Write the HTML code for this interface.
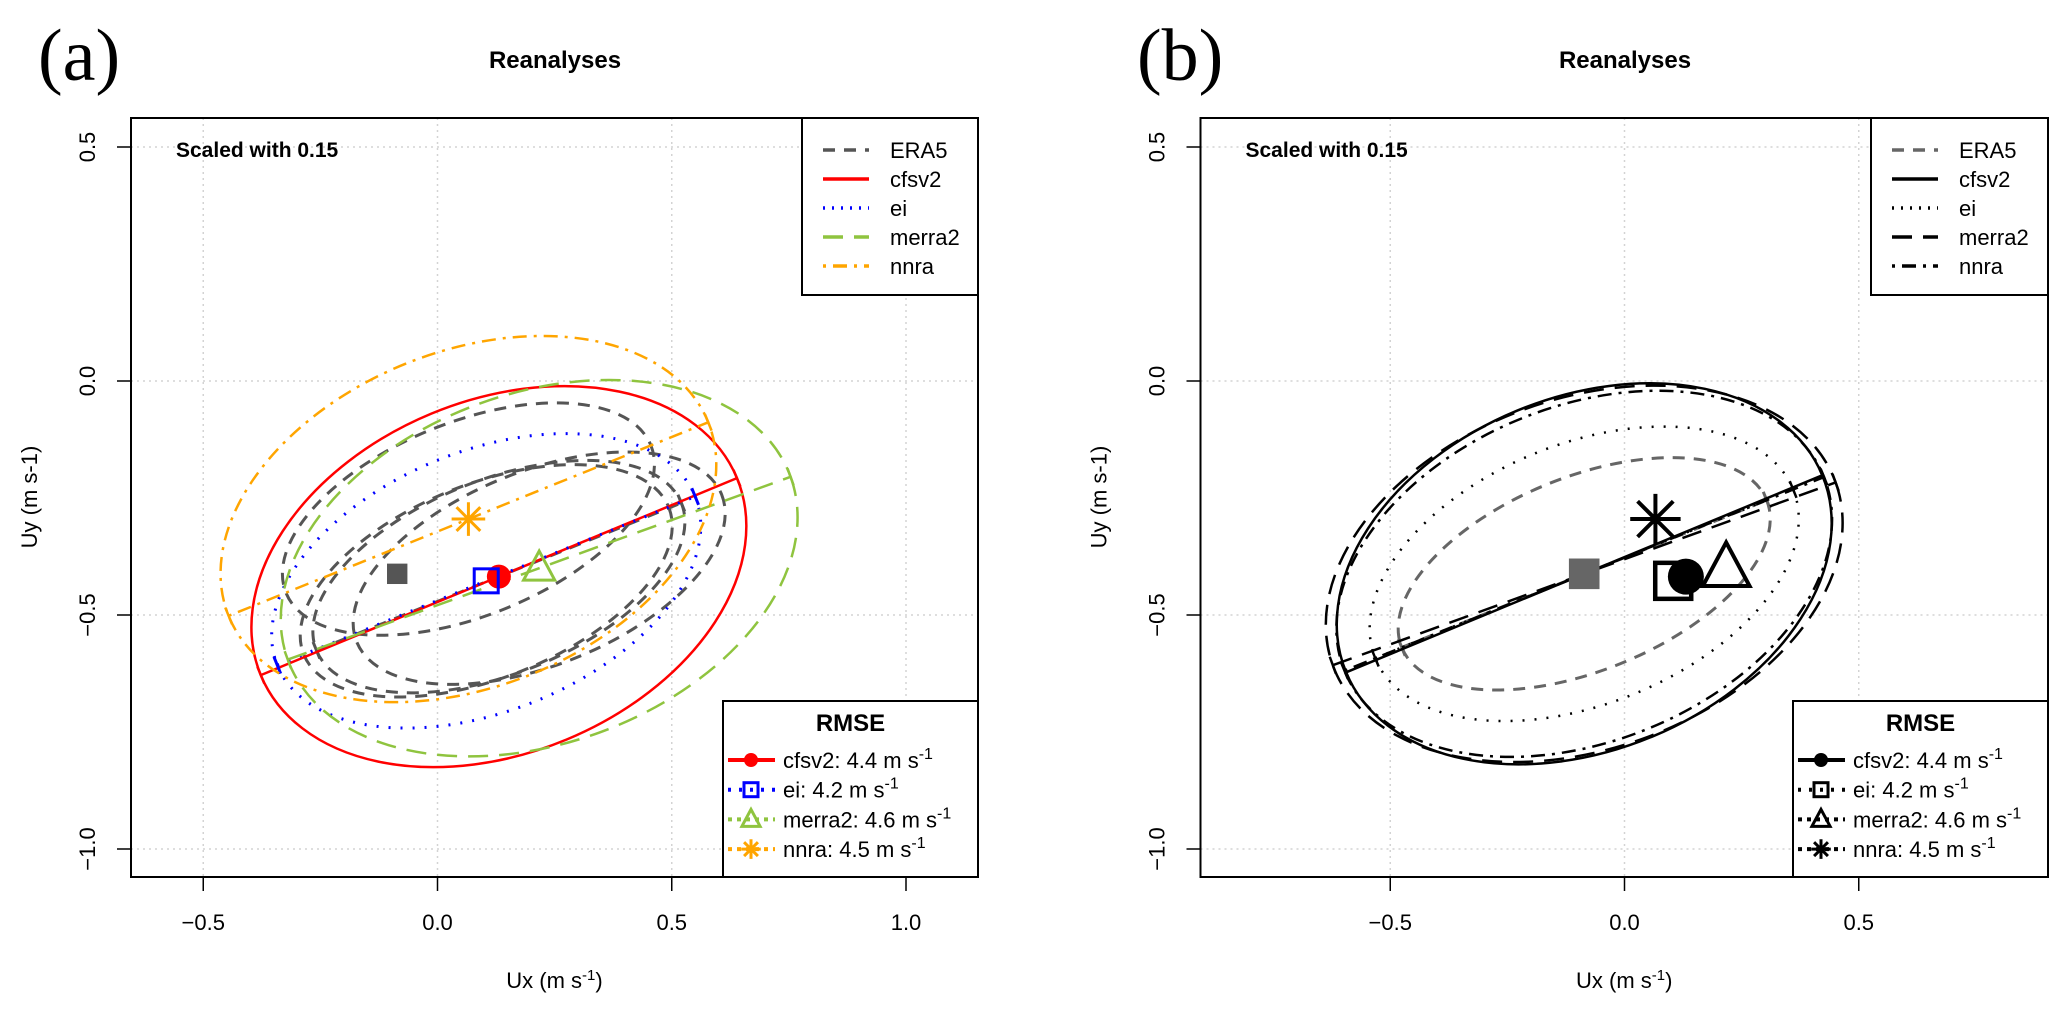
<!DOCTYPE html>
<html><head><meta charset="utf-8"><style>
html,body{margin:0;padding:0;background:#fff;}
svg{display:block;font-family:"Liberation Sans",Arial,sans-serif;}
</style></head><body>
<svg id="chart" width="2067" height="1013" viewBox="0 0 2067 1013" xmlns="http://www.w3.org/2000/svg"></svg>
<script>
// ---- data ----
const seriesNames = ["ERA5","cfsv2","ei","merra2","nnra"];
const centerX = [-0.086, 0.131, 0.104, 0.217, 0.066];
const centerY = [-0.412, -0.418, -0.427, -0.40, -0.295];
const semiMajor = [0.42, 0.55, 0.481, 0.571, 0.552];
const semiMinor = [0.207, 0.377, 0.278, 0.374, 0.358];
const angleDeg = [22, 22.5, 22, 20, 22];
const rmseValues = [null, 4.4, 4.2, 4.6, 4.5];
const xTicksA = [-0.5, 0.0, 0.5, 1.0];
const xTicksB = [-0.5, 0.0, 0.5];
const yTicks = [0.5, 0.0, -0.5, -1.0];
const tickLabelsA = ["\u22120.5","0.0","0.5","1.0"];
const tickLabelsB = ["\u22120.5","0.0","0.5"];
const yTickLabels = ["0.5","0.0","\u22120.5","\u22121.0"];

const NS = "http://www.w3.org/2000/svg";
const svg = document.getElementById("chart");
function mk(tag, attrs, parent){
  const e = document.createElementNS(NS, tag);
  for (const k in attrs) e.setAttribute(k, attrs[k]);
  (parent||svg).appendChild(e);
  return e;
}
const colorsA = ["#555555","#ff0000","#0000ff","#8fc43f","#ffa500"];
const colorsB = ["#666666","#000000","#000000","#000000","#000000"];
const dashes = ["12 9","","2 10","20 11","3 7 14 7"];
const markerType = ["fsquare","circle","square","triangle","star"];

function panel(o){
  const g = mk("g", {});
  
  
  const sx = v => o.x0 + v*468.5;
  const sy = v => 381 - v*468;
  o.xticks.forEach((t,i)=>{
    const l = mk("line",{x1:sx(t),x2:sx(t),y1:o.top,y2:o.bottom,stroke:"#d3d3d3","stroke-width":1.5,"stroke-dasharray":"2 4"},g);
    
    
    const tk = mk("line",{x1:sx(t),x2:sx(t),y1:o.bottom,y2:o.bottom+14,stroke:"#000","stroke-width":1.5},g);
    
    
    const tx = mk("text",{x:sx(t),y:930,"font-size":22,"text-anchor":"middle",fill:"#000"},g);
    tx.textContent = o.xlabels[i];
    
    
  });
  yTicks.forEach((t,i)=>{
    const l = mk("line",{x1:o.left,x2:o.right,y1:sy(t),y2:sy(t),stroke:"#d3d3d3","stroke-width":1.5,"stroke-dasharray":"2 4"},g);
    
    
    const tk = mk("line",{x1:o.left-14,x2:o.left,y1:sy(t),y2:sy(t),stroke:"#000","stroke-width":1.5},g);
    
    
    const tx = mk("text",{x:0,y:0,"font-size":22,"text-anchor":"middle",fill:"#000",transform:`translate(${o.left-36},${sy(t)}) rotate(-90)`},g);
    tx.textContent = yTickLabels[i];
    
    
  });
  const clip = mk("clipPath",{id:"clip"+o.id},g);
  mk("rect",{x:o.left,y:o.top,width:o.right-o.left,height:o.bottom-o.top},clip);
  const plot = mk("g",{"clip-path":`url(#clip${o.id})`},g);
  
  

  function ellipse(cx,cy,a,b,ang,color,dash,lw,name,withAxis){
    const eg = mk("g",{},plot);
    
    
    mk("ellipse",{cx:sx(cx),cy:sy(cy),rx:a*468.5,ry:b*468,transform:`rotate(${-ang} ${sx(cx)} ${sy(cy)})`,fill:"none",stroke:color,"stroke-width":lw,"stroke-dasharray":dash},eg);
    if(withAxis){
      const r = ang*Math.PI/180, c=Math.cos(r), s=Math.sin(r);
      const x1=sx(cx-a*c), y1=sy(cy-a*s), x2=sx(cx+a*c), y2=sy(cy+a*s);
      mk("line",{x1,y1,x2,y2,stroke:color,"stroke-width":lw,"stroke-dasharray":dash},eg);
      [[x1,y1],[x2,y2]].forEach(p=>{
        mk("line",{x1:p[0]-9*s,y1:p[1]-9*c,x2:p[0]+9*s,y2:p[1]+9*c,stroke:color,"stroke-width":lw},eg);
      });
    }
  }
  if(o.id==="a"){
    for(let i=1;i<5;i++){
      ellipse(centerX[i],centerY[i],semiMajor[0],semiMinor[0],angleDeg[0],colorsA[0],dashes[0],3,"era5-ellipse",i===1);
    }
    for(let i=1;i<5;i++){
      ellipse(centerX[i],centerY[i],semiMajor[i],semiMinor[i],angleDeg[i],colorsA[i],dashes[i],i===2?3:2.5,seriesNames[i]+"-ellipse",true);
    }
  } else {
    ellipse(centerX[0],centerY[0],semiMajor[0],semiMinor[0],angleDeg[0],colorsB[0],dashes[0],3,"era5-ellipse",true);
    for(let i=1;i<5;i++){
      ellipse(centerX[0],centerY[0],semiMajor[i],semiMinor[i],angleDeg[i],colorsB[i],dashes[i],2.5,seriesNames[i]+"-ellipse",true);
    }
  }
  for(let i=0;i<5;i++){
    drawMarker(plot, markerType[i], sx(centerX[i]), sy(centerY[i]), o.ms*(i===0?0.85:1), o.colors[i], seriesNames[i]+"-marker");
  }
  const box = mk("rect",{x:o.left,y:o.top,width:o.right-o.left,height:o.bottom-o.top,fill:"none",stroke:"#000","stroke-width":2},g);
  
  
  let t = mk("text",{x:o.tag,y:80,"font-size":74,"font-family":"Liberation Serif, serif",fill:"#000"},g);
  t.textContent = o.id==="a"?"(a)":"(b)";
  
  
  t = mk("text",{x:o.titleX,y:68,"font-size":24,"font-weight":"bold","text-anchor":"middle"},g);
  t.textContent = "Reanalyses";
  
  
  t = mk("text",{x:o.left+45,y:157,"font-size":21,"font-weight":"bold"},g);
  t.textContent = "Scaled with 0.15";
  
  
  t = mk("text",{x:(o.left+o.right)/2,y:988,"font-size":22,"text-anchor":"middle"},g);
  t.innerHTML = 'Ux (m s<tspan dy="-8" font-size="15">-1</tspan><tspan dy="8">)</tspan>';
  
  
  t = mk("text",{x:0,y:0,"font-size":22,"text-anchor":"middle",transform:`translate(${o.left-94},497) rotate(-90)`},g);
  t.textContent = "Uy (m s-1)";
  
  
  const lg = mk("g",{},g);
  
  
  const lx = o.legLeft;
  mk("rect",{x:lx,y:o.top,width:o.right-lx,height:295-o.top,fill:"#fff",stroke:"#000","stroke-width":2},lg);
  for(let i=0;i<5;i++){
    const yy = 150 + i*29;
    const e = mk("g",{},lg);
    
    
    mk("line",{x1:lx+21,x2:lx+67,y1:yy,y2:yy,stroke:o.colors[i],"stroke-width":3.5,"stroke-dasharray":dashes[i]==="2 10"?"2 7":dashes[i]},e);
    const tx = mk("text",{x:lx+88,y:yy+8,"font-size":22},e);
    tx.textContent = seriesNames[i];
  }
  const rg = mk("g",{},g);
  
  
  const rx = o.rmseLeft;
  mk("rect",{x:rx,y:701,width:o.right-rx,height:o.bottom-701,fill:"#fff",stroke:"#000","stroke-width":2},rg);
  t = mk("text",{x:(rx+o.right)/2,y:731,"font-size":24,"font-weight":"bold","text-anchor":"middle"},rg);
  t.textContent = "RMSE";
  for(let i=1;i<5;i++){
    const yy = 760 + (i-1)*29.7;
    const e = mk("g",{},rg);
    
    
    mk("line",{x1:rx+5,x2:rx+52,y1:yy,y2:yy,stroke:o.colors[i],"stroke-width":4,"stroke-dasharray":dashes[i]==="2 10"?"3 8":(dashes[i]?"4 5":"")},e);
    drawMarker(e, markerType[i], rx+28, yy, 14, o.colors[i], "rmse-marker");
    const tx = mk("text",{x:rx+60,y:yy+8,"font-size":22},e);
    tx.innerHTML = seriesNames[i]+": "+rmseValues[i].toFixed(1)+' m s<tspan dy="-9" font-size="16">-1</tspan>';
  }
}
function drawMarker(parent,type,x,y,s,color,name){
  let m;
  if(type==="fsquare"){
    m = mk("rect",{x:x-s/2,y:y-s/2,width:s,height:s,fill:color},parent);
  } else if(type==="square"){
    m = mk("rect",{x:x-s/2,y:y-s/2,width:s,height:s,fill:"none",stroke:color,"stroke-width":Math.max(3,s/8)},parent);
  } else if(type==="circle"){
    m = mk("circle",{cx:x,cy:y,r:s/2,fill:color},parent);
  } else if(type==="triangle"){
    const h=s*1.1;
    m = mk("polygon",{points:`${x},${y-h*0.65} ${x-s*0.65},${y+h*0.45} ${x+s*0.65},${y+h*0.45}`,fill:"none",stroke:color,"stroke-width":Math.max(3,s/9)},parent);
  } else {
    const r=s*0.7, q=r*0.707;
    m = mk("path",{d:`M${x-r},${y}H${x+r}M${x},${y-r}V${y+r}M${x-q},${y-q}L${x+q},${y+q}M${x-q},${y+q}L${x+q},${y-q}`,stroke:color,"stroke-width":Math.max(3,s/9),fill:"none"},parent);
  }
  
  
}
panel({id:"a",name:"panel-a",x0:437.5,left:131,right:978,top:118,bottom:877,xticks:xTicksA,xlabels:tickLabelsA,colors:colorsA,ms:24,legLeft:802,rmseLeft:723,tag:38,titleX:555});
panel({id:"b",name:"panel-b",x0:1624.5,left:1200.5,right:2048,top:118,bottom:877,xticks:xTicksB,xlabels:tickLabelsB,colors:colorsB,ms:36,legLeft:1871,rmseLeft:1793,tag:1137,titleX:1625});
</script>
</body></html>
